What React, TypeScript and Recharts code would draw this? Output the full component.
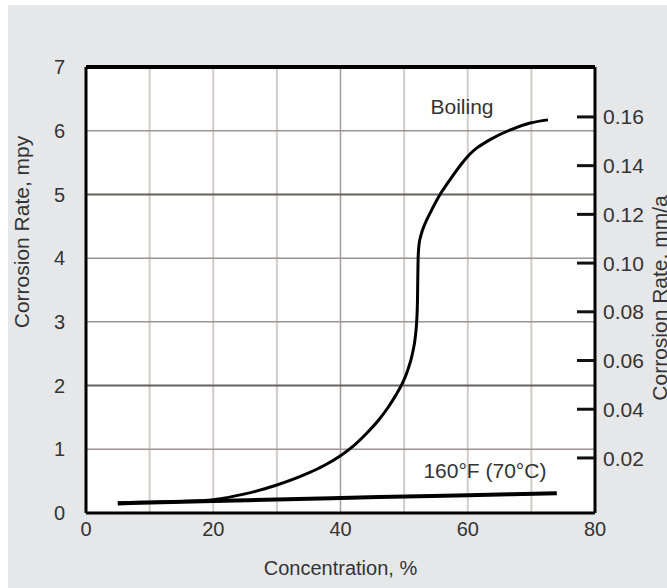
import React from 'react';
import {
  ComposedChart,
  Line,
  XAxis,
  YAxis,
  CartesianGrid,
  ReferenceLine,
  ReferenceDot,
} from 'recharts';

// Concentration (%) and corrosion rate (mpy)
const boilingConc = [5, 10, 15, 20, 25, 30, 35, 37.5, 40, 42, 44, 46, 47.5, 48.7, 49.8, 50.6, 51.3, 51.8, 52.0, 52.1, 52.15, 52.2, 52.34, 52.65, 53.28, 54.2, 55.6, 57.2, 59.1, 60.2, 61.45, 62.5, 63.5, 66.6, 69.8, 72.6];
const boilingRate = [0.16, 0.17, 0.18, 0.21, 0.3, 0.44, 0.63, 0.75, 0.9, 1.05, 1.24, 1.46, 1.66, 1.85, 2.05, 2.25, 2.5, 2.8, 3.05, 3.34, 3.7, 4.0, 4.21, 4.36, 4.54, 4.73, 4.99, 5.23, 5.49, 5.62, 5.73, 5.8, 5.86, 6.01, 6.12, 6.17];

const warmConc = [5, 20, 30, 46, 60, 74];
const warmRate = [0.15, 0.19, 0.21, 0.25, 0.28, 0.31];

const MPY_TO_MMA = 0.0254;

const xTicks = [0, 20, 40, 60, 80];
const yTicks = [0, 1, 2, 3, 4, 5, 6, 7];
const rightTicks = [0.02, 0.04, 0.06, 0.08, 0.1, 0.12, 0.14, 0.16];
const gridX = [10, 20, 30, 40, 50, 60, 70];
const gridY = [1, 2, 3, 4, 5, 6];
const darkGridX = [40];
const darkGridY = [2, 5];

const boilingData = boilingConc.map((x, i) => ({ x, y: boilingRate[i], mm: boilingRate[i] * MPY_TO_MMA }));
const warmData = warmConc.map((x, i) => ({ x, y: warmRate[i] }));

const FONT = '"Liberation Sans", Arial, Helvetica, sans-serif';
const TEXT = '#333';

const RightTick = (props: any) => {
  const { x, y, payload } = props;
  return (
    <g>
      <line x1={x - 18} x2={x} y1={y} y2={y} stroke="#111" strokeWidth={3} />
      <text x={x + 8} y={y} dy="0.36em" fontSize={21} fill={TEXT} fontFamily={FONT} textAnchor="start">
        {Number(payload.value).toFixed(2)}
      </text>
    </g>
  );
};

export default function App() {
  return (
    <div
      style={{
        position: 'absolute',
        left: 8,
        top: 5,
        width: 659,
        height: 583,
        background: '#e6e7e9',
        fontFamily: FONT,
      }}
    >
      <ComposedChart
        width={659}
        height={583}
        margin={{ top: 62, right: 0, bottom: 0, left: 0 }}
      >
        <CartesianGrid yAxisId="left" fill="#fff" stroke="none" horizontal={false} vertical={false} />
        {gridX.map((v) => (
          <ReferenceLine
            key={'gx' + v}
            x={v}
            yAxisId="left"
            stroke={darkGridX.includes(v) ? '#a89d9d' : '#d3cbcb'}
            strokeWidth={darkGridX.includes(v) ? 1.5 : 2}
          />
        ))}
        {gridY.map((v) => (
          <ReferenceLine
            key={'gy' + v}
            y={v}
            yAxisId="left"
            stroke={darkGridY.includes(v) ? '#666060' : '#9c9494'}
            strokeWidth={darkGridY.includes(v) ? 2 : 1.5}
          />
        ))}
        <XAxis
          dataKey="x"
          type="number"
          domain={[0, 80]}
          ticks={xTicks}
          height={75}
          tickLine={false}
          tickSize={0}
          tickMargin={9}
          axisLine={{ stroke: '#000', strokeWidth: 3 }}
          tick={{ fontSize: 20, fill: TEXT }}
          label={{ value: 'Concentration, %', position: 'center', dy: 17, fontSize: 20, fill: TEXT }}
        />
        <YAxis
          yAxisId="left"
          orientation="left"
          type="number"
          domain={[0, 7]}
          ticks={yTicks}
          width={78}
          tickLine={false}
          tickSize={0}
          tickMargin={21}
          axisLine={{ stroke: '#000', strokeWidth: 3 }}
          tick={{ fontSize: 20, fill: TEXT }}
          label={{ value: 'Corrosion Rate, mpy', position: 'center', angle: -90, dx: -25, dy: -58, fontSize: 21, fill: TEXT }}
        />
        <YAxis
          yAxisId="right"
          orientation="right"
          type="number"
          domain={[-0.0026, 0.1805]}
          allowDataOverflow
          ticks={rightTicks}
          interval={0}
          width={72}
          tickLine={false}
          tickSize={0}
          tickMargin={0}
          axisLine={{ stroke: '#000', strokeWidth: 3 }}
          tick={(p: any) => <RightTick {...p} />}
          label={{ value: 'Corrosion Rate, mm/a', position: 'center', angle: -90, dx: 29, dy: 8, fontSize: 21, fill: TEXT }}
        />
        <ReferenceLine y={7} yAxisId="left" stroke="#000" strokeWidth={4} />
        <Line
          yAxisId="right"
          data={boilingData}
          dataKey="mm"
          type="monotone"
          stroke="none"
          strokeOpacity={0}
          dot={false}
          activeDot={false}
          legendType="none"
          isAnimationActive={false}
        />
        <Line
          yAxisId="left"
          data={warmData}
          dataKey="y"
          type="monotone"
          stroke="#000"
          strokeWidth={4}
          dot={false}
          isAnimationActive={false}
        />
        <Line
          yAxisId="left"
          data={boilingData}
          dataKey="y"
          type="monotone"
          stroke="#000"
          strokeWidth={3}
          dot={false}
          isAnimationActive={false}
        />
        <ReferenceDot
          yAxisId="left"
          x={59.1}
          y={6.38}
          r={1}
          fill="none"
          stroke="none"
          label={{ value: 'Boiling', position: 'center', fontSize: 21, fill: TEXT }}
        />
        <ReferenceDot
          yAxisId="left"
          x={62.7}
          y={0.66}
          r={1}
          fill="none"
          stroke="none"
          label={{ value: '160°F (70°C)', position: 'center', fontSize: 21, fill: TEXT }}
        />
      </ComposedChart>
    </div>
  );
}
